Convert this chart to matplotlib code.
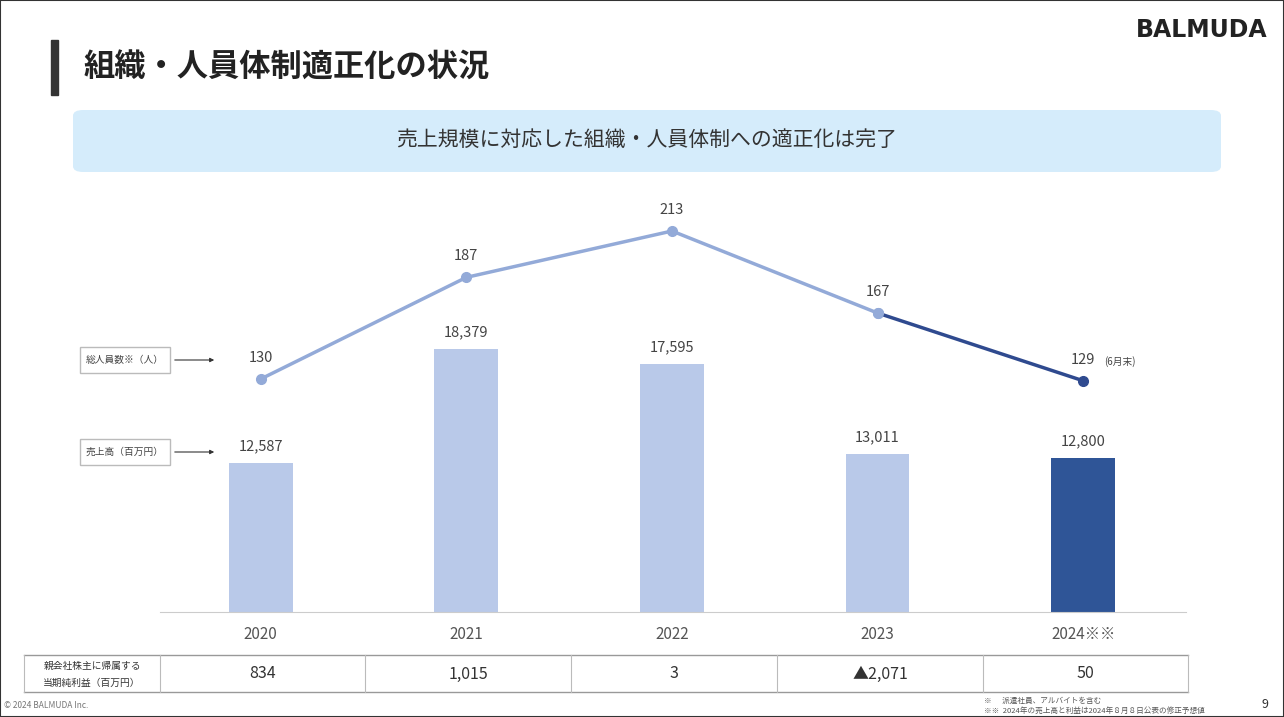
import matplotlib
matplotlib.use("Agg")
import matplotlib.pyplot as plt
from matplotlib.patches import FancyBboxPatch, Rectangle

plt.rcParams['font.family'] = ['Noto Sans CJK JP', 'DejaVu Sans']

years = ["2020", "2021", "2022", "2023", "2024※※"]
sales = [12587, 18379, 17595, 13011, 12800]
staff = [130, 187, 213, 167, 129]
profit = ["834", "1,015", "3", "▲2,071", "50"]

W, H = 1284, 717
fig = plt.figure(figsize=(W/100, H/100), dpi=100)
def fx(x): return x / W
def fy(y): return 1 - y / H

light_bar, dark_bar = "#b9c9e9", "#2f5597"
light_line, dark_line = "#93aad8", "#2f4a8f"
txt = "#444444"

# frame
fig.add_artist(Rectangle((0, 0), 1, 1, transform=fig.transFigure, fill=False, ec="#333333", lw=1.5))
# header
fig.add_artist(Rectangle((fx(51), fy(95)), fx(7), 55/H, transform=fig.transFigure, color="#333333"))
fig.text(fx(84), fy(68), "組織・人員体制適正化の状況", fontsize=22.5, fontweight="bold", color="#222222", va="center")
fig.text(fx(1268), fy(30), "BALMUDA", fontsize=17, fontweight="bold", color="#222222", ha="right", va="center", family="DejaVu Sans")
fig.add_artist(FancyBboxPatch((fx(73), fy(172)), fx(1148), 62/H, boxstyle="round,pad=0,rounding_size=0.008",
                              transform=fig.transFigure, fc="#d5ecfb", ec="none"))
fig.text(fx(647), fy(140), "売上規模に対応した組織・人員体制への適正化は完了", fontsize=15, color="#333333", ha="center", va="center")

# axes
ax = fig.add_axes([fx(160), fy(612), fx(1186-160), (612-200)/H])
ax.set_xlim(-0.49, 4.5)
ax.set_ylim(5000, 5000 + 412/0.01968)
x = list(range(len(years)))
cols = [light_bar]*4 + [dark_bar]
ax.bar(x, [s - 5000 for s in sales], bottom=5000, width=0.31, color=cols)
for i, s in enumerate(sales):
    ax.text(i, s + 500, f"{s:,}", ha="center", va="bottom", fontsize=10.5, color=txt)
for sp in ["top", "right", "left"]:
    ax.spines[sp].set_visible(False)
ax.spines["bottom"].set_color("#cccccc")
ax.set_yticks([])
ax.set_xticks(x)
ax.set_xticklabels(years, fontsize=11, color="#555555")
ax.tick_params(axis="x", length=0, pad=10)

ax2 = ax.twinx()
ax2.set_ylim(130 - 233/1.783, 130 + 179/1.783)
ax2.set_axis_off()
ax2.plot(x[:4], staff[:4], color=light_line, lw=2.5, marker="o", ms=7)
ax2.plot(x[3:], staff[3:], color=dark_line, lw=2.5)
ax2.plot([x[3]], [staff[3]], "o", color=light_line, ms=7)
ax2.plot([x[4]], [staff[4]], "o", color=dark_line, ms=7)
for i, v in enumerate(staff):
    ax2.text(i, v + 8, str(v), ha="center", va="bottom", fontsize=10.5, color=txt)
ax2.text(4.1, staff[4] + 8, "(6月末)", fontsize=7, color=txt, va="bottom")

# side labels
for y, lab in [(360, "総人員数※（人）"), (452, "売上高（百万円）")]:
    fig.add_artist(Rectangle((fx(80), fy(y+13)), fx(90), 26/H, transform=fig.transFigure, fill=False, ec="#bbbbbb", lw=1))
    fig.text(fx(86), fy(y), lab, fontsize=7, color="#444444", va="center")
    fig.add_artist(matplotlib.patches.FancyArrowPatch((fx(172), fy(y)), (fx(217), fy(y)), transform=fig.transFigure,
                   arrowstyle="-|>", mutation_scale=6, color="#333333", lw=0.8))

# table
colx = [24, 160, 365, 571, 777, 983, 1188]
top, bot = 655, 692
fig.add_artist(plt.Line2D([fx(24), fx(1188)], [fy(top)]*2, color="#999999", lw=1))
fig.add_artist(plt.Line2D([fx(24), fx(1188)], [fy(bot)]*2, color="#999999", lw=1))
for c in colx:
    fig.add_artist(plt.Line2D([fx(c)]*2, [fy(top), fy(bot)], color="#bbbbbb", lw=0.8))
fig.text(fx(92), fy(666), "親会社株主に帰属する", fontsize=7, ha="center", va="center", color="#333333")
fig.text(fx(92), fy(683), "当期純利益（百万円）", fontsize=7, ha="center", va="center", color="#333333")
for i, p in enumerate(profit):
    fig.text(fx((colx[i+1]+colx[i+2])/2), fy(674), p, fontsize=11.5, ha="center", va="center", color="#333333")

fig.text(fx(4), fy(706), "© 2024 BALMUDA Inc.", fontsize=6, color="#777777", va="center")
fig.text(fx(984), fy(701), "※      派遣社員、アルバイトを含む", fontsize=5.5, color="#555555", va="center")
fig.text(fx(984), fy(711), "※※  2024年の売上高と利益は2024年８月８日公表の修正予想値", fontsize=5.5, color="#555555", va="center")
fig.text(fx(1268), fy(704), "9", fontsize=9, color="#333333", ha="right", va="center")

fig.savefig("out.png", dpi=100)
